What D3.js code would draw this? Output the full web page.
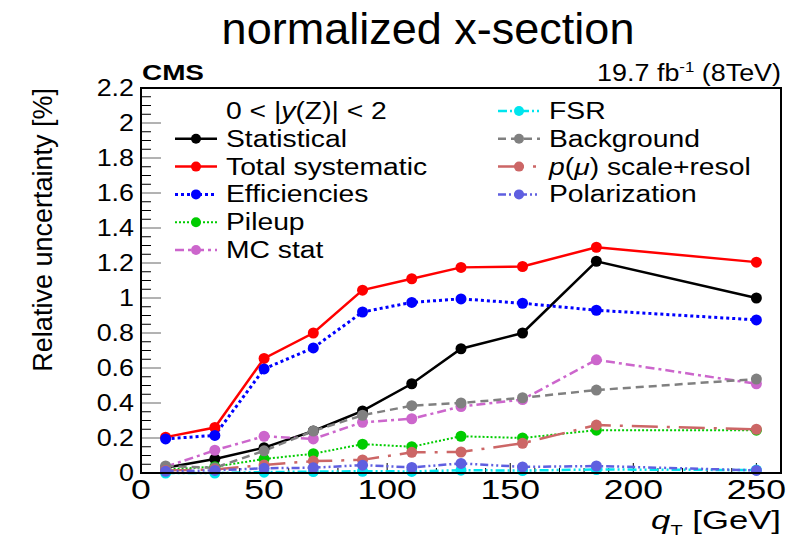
<!DOCTYPE html>
<html>
<head>
<meta charset="utf-8">
<script src="https://cdn.jsdelivr.net/npm/d3@7"></script>
<style>
  body { margin: 0; background: #fff; }
  svg { font-family: "Liberation Sans", Arial, sans-serif; }
</style>
</head>
<body>
<div id="chart"></div>
<script>
  'use strict';

  // qT bin centres [GeV]
  const qt = [10, 30, 50, 70, 90, 110, 130, 155, 185, 250];

  const statistical = [0.03, 0.08, 0.145, 0.24, 0.355, 0.51, 0.71, 0.80, 1.21, 1.00];
  const totalSyst   = [0.205, 0.26, 0.655, 0.80, 1.045, 1.11, 1.175, 1.18, 1.29, 1.205];
  const efficiency  = [0.195, 0.215, 0.595, 0.715, 0.92, 0.975, 0.995, 0.97, 0.93, 0.875];
  const pileup      = [0.02, 0.036, 0.08, 0.11, 0.165, 0.15, 0.21, 0.20, 0.245, 0.245];
  const mcStat      = [0.035, 0.13, 0.21, 0.195, 0.29, 0.31, 0.38, 0.42, 0.647, 0.51];
  const fsr         = [0.0, 0.0, 0.005, 0.008, 0.01, 0.009, 0.016, 0.014, 0.02, 0.017];
  const background  = [0.04, 0.03, 0.127, 0.24, 0.33, 0.385, 0.40, 0.43, 0.474, 0.537];
  const pmuScale    = [0.015, 0.02, 0.046, 0.068, 0.075, 0.118, 0.12, 0.17, 0.274, 0.25];
  const polarization = [0.01, 0.015, 0.027, 0.03, 0.045, 0.032, 0.055, 0.035, 0.04, 0.015];

  const yTicks = [0, 0.2, 0.4, 0.6, 0.8, 1, 1.2, 1.4, 1.6, 1.8, 2, 2.2];
  const xTicks = [0, 50, 100, 150, 200, 250];

  const series = [
    { name: 'Statistical', values: statistical, color: '#000000', width: 2.5, dash: null, col: 0, row: 1 },
    { name: 'Total systematic', values: totalSyst, color: '#ff0000', width: 2.5, dash: null, col: 0, row: 2 },
    { name: 'Efficiencies', values: efficiency, color: '#0000ff', width: 3, dash: '3,3', col: 0, row: 3 },
    { name: 'Pileup', values: pileup, color: '#00cc00', width: 2, dash: '2,2', col: 0, row: 4 },
    { name: 'MC stat', values: mcStat, color: '#cc66cc', width: 2.5, dash: '9,4,3,4', col: 0, row: 5 },
    { name: 'FSR', values: fsr, color: '#00e5ee', width: 2.5, dash: '9,3,2,3,2,3', col: 1, row: 0 },
    { name: 'Background', values: background, color: '#808080', width: 2.5, dash: '8,5', col: 1, row: 1 },
    { name: 'p(μ) scale+resol', values: pmuScale, color: '#cc6666', width: 2.5, dash: '26,9,3,9', col: 1, row: 2 },
    { name: 'Polarization', values: polarization, color: '#5f5fe0', width: 2.5, dash: '8,3,2,3,2,3', col: 1, row: 3 }
  ];

  const W = 798, H = 537;
  const margin = { left: 141, right: 17, top: 88, bottom: 64 };

  const svg = d3.select('#chart').append('svg')
    .attr('width', W)
    .attr('height', H);

  const x = d3.scaleLinear().domain([0, 260]).range([margin.left, W - margin.right]);
  const y = d3.scaleLinear().domain([0, 2.2]).range([H - margin.bottom, margin.top]);

  // the reference font is wider than Liberation Sans: stretch text horizontally
  function stretch(sel, sx) {
    sel.each(function () {
      const t = d3.select(this);
      const tx = +t.attr('x') || 0, ty = +t.attr('y') || 0;
      t.attr('x', 0).attr('y', 0).attr('transform', `translate(${tx},${ty}) scale(${sx},1)`);
    });
  }
  function fitWidth(sel, w) {
    sel.each(function () {
      const sx = w / this.getComputedTextLength();
      stretch(d3.select(this), sx);
    });
  }

  // title
  svg.append('text')
    .attr('x', 428).attr('y', 44)
    .attr('text-anchor', 'middle')
    .attr('font-size', 45)
    .text('normalized x-section')
    .call(fitWidth, 413);

  svg.append('text')
    .attr('x', 142).attr('y', 80)
    .attr('font-size', 22)
    .attr('font-weight', 'bold')
    .text('CMS')
    .call(fitWidth, 62);

  const lumi = svg.append('text')
    .attr('x', W - margin.right).attr('y', 81)
    .attr('text-anchor', 'end')
    .attr('font-size', 24);
  lumi.append('tspan').text('19.7 fb');
  lumi.append('tspan').attr('font-size', 15).attr('dy', -9).text('-1');
  lumi.append('tspan').attr('dy', 9).text(' (8TeV)');
  lumi.call(fitWidth, 184);

  // y axis: major + minor ticks on the left side
  const isMajor = d => Math.abs(d / 0.2 - Math.round(d / 0.2)) < 1e-6;
  const yMinor = d3.range(0, 2.2001, 0.05);
  svg.append('g').selectAll('line').data(yMinor).enter().append('line')
    .attr('x1', x(0)).attr('x2', d => x(0) + (isMajor(d) ? 20 : 10))
    .attr('y1', d => y(d)).attr('y2', d => y(d))
    .attr('stroke', d => isMajor(d) ? '#666' : '#000')
    .attr('stroke-width', 1);

  svg.append('g').selectAll('text').data(yTicks).enter().append('text')
    .attr('x', x(0) - 7).attr('y', d => y(d) + 8)
    .attr('text-anchor', 'end')
    .attr('font-size', 24)
    .text(d => d3.format('~g')(d))
    .call(stretch, 1.12);

  // x axis ticks
  const xMinor = d3.range(0, 261, 10);
  svg.append('g').selectAll('line').data(xMinor).enter().append('line')
    .attr('x1', d => x(d)).attr('x2', d => x(d))
    .attr('y1', y(0)).attr('y2', d => y(0) - (d % 50 === 0 ? 10 : 5))
    .attr('stroke', '#000');

  svg.append('g').selectAll('text').data(xTicks).enter().append('text')
    .attr('x', d => x(d)).attr('y', 499)
    .attr('text-anchor', 'middle')
    .attr('font-size', 28)
    .text(d => d)
    .call(stretch, 1.27);

  // axis titles
  const xt = svg.append('text')
    .attr('x', W - margin.right).attr('y', 529)
    .attr('text-anchor', 'end')
    .attr('font-size', 26);
  xt.append('tspan').attr('font-style', 'italic').text('q');
  xt.append('tspan').attr('font-size', 15).attr('dy', 6).text('T');
  xt.append('tspan').attr('dy', -6).text(' [GeV]');
  xt.call(fitWidth, 130);

  svg.append('text')
    .attr('transform', `translate(52, ${margin.top}) rotate(-90)`)
    .attr('text-anchor', 'end')
    .attr('font-size', 27)
    .text('Relative uncertainty [%]');

  // data lines and markers
  const line = d3.line().x((d, i) => x(qt[i])).y(d => y(d));
  const plot = svg.append('g');
  series.forEach(s => {
    plot.append('path')
      .datum(s.values)
      .attr('d', line)
      .attr('fill', 'none')
      .attr('stroke', s.color)
      .attr('stroke-width', s.width)
      .attr('stroke-dasharray', s.dash);
  });
  series.forEach(s => {
    plot.append('g').selectAll('circle').data(s.values).enter().append('circle')
      .attr('cx', (d, i) => x(qt[i]))
      .attr('cy', d => y(d))
      .attr('r', 5.5)
      .attr('fill', s.color);
  });

  // frame
  svg.append('rect')
    .attr('x', x(0)).attr('y', y(2.2))
    .attr('width', x(260) - x(0)).attr('height', y(0) - y(2.2))
    .attr('fill', 'none')
    .attr('stroke', '#000')
    .attr('stroke-width', 2);

  // legend
  const legend = svg.append('g');
  const colX = [175, 498];
  const rowY = d => 111 + d * 27.8;
  const legendScale = 1.23;

  legend.append('text')
    .attr('x', 226).attr('y', rowY(0) + 8)
    .attr('font-size', 23)
    .html('0 &lt; |<tspan font-style="italic">y</tspan>(Z)| &lt; 2')
    .call(stretch, legendScale);

  const entries = legend.selectAll('g.entry').data(series).enter().append('g')
    .attr('transform', d => `translate(${colX[d.col]}, ${rowY(d.row)})`);
  entries.append('line')
    .attr('x1', 0).attr('x2', 42).attr('y1', 0).attr('y2', 0)
    .attr('stroke', d => d.color)
    .attr('stroke-width', d => d.width)
    .attr('stroke-dasharray', d => d.dash);
  entries.append('circle')
    .attr('cx', 21).attr('cy', 0).attr('r', 5)
    .attr('fill', d => d.color);
  entries.append('text')
    .attr('x', 51).attr('y', 8)
    .attr('font-size', 23)
    .each(function (d) {
      const t = d3.select(this);
      if (d.name.startsWith('p(μ)')) {
        t.append('tspan').attr('font-style', 'italic').text('p');
        t.append('tspan').text('(');
        t.append('tspan').attr('font-style', 'italic').text('μ');
        t.append('tspan').text(') scale+resol');
      } else {
        t.text(d.name);
      }
    })
    .call(stretch, legendScale);
</script>
</body>
</html>
